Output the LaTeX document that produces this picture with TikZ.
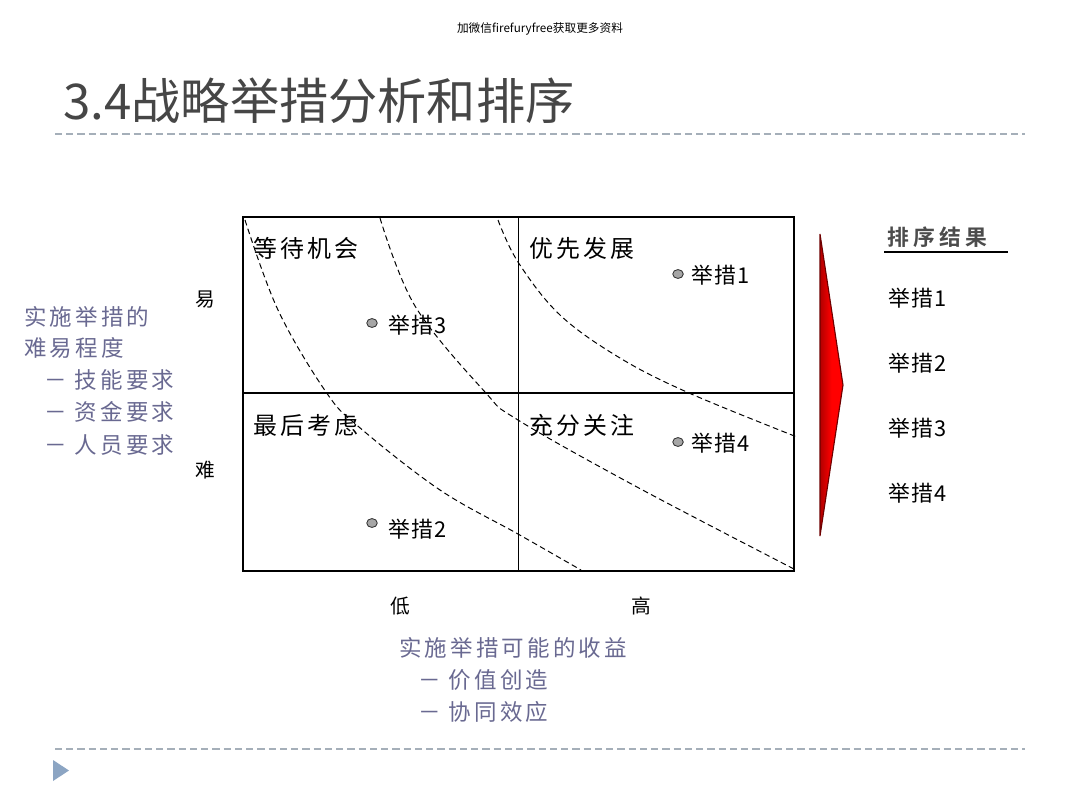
\documentclass[tikz,border=0pt]{standalone}
\usepackage{fontspec}
\setmainfont{Liberation Sans}
\newfontfamily\cjk{Noto Sans CJK SC}
\newfontfamily\cjkq{Noto Sans CJK SC}[LetterSpace=13]
\newfontfamily\cjki{Noto Sans CJK SC}[LetterSpace=7]
\newfontfamily\cjks{Noto Sans CJK SC}[LetterSpace=14]
\newfontfamily\cjkbs{Noto Sans CJK SC Bold}[LetterSpace=20]
\definecolor{titlegray}{RGB}{70,70,70}
\definecolor{sepline}{RGB}{165,175,185}
\definecolor{slate}{RGB}{105,105,145}
\definecolor{tri}{RGB}{140,165,195}
\definecolor{darkred}{RGB}{110,0,0}
\tikzset{
  quad/.style={anchor=west,inner sep=0pt,font=\cjkq\fontsize{17}{17}\selectfont},
  item/.style={anchor=west,inner sep=0pt,font=\cjki\fontsize{15.5}{15.5}\selectfont},
  dot/.style={ellipse,draw=black!80,fill=gray!70,minimum width=7.5pt,minimum height=6.3pt,inner sep=0pt,line width=0.6pt},
  side/.style={anchor=west,inner sep=0pt,text=slate,font=\cjks\fontsize{16}{16}\selectfont},
  axislab/.style={inner sep=0pt,font=\cjk\fontsize{14}{14}\selectfont},
  sep/.style={draw=sepline,dashed,line width=0.8pt,dash pattern=on 5pt off 3pt},
  curve/.style={draw=black,dashed,line width=0.7pt,dash pattern=on 4pt off 2.5pt}
}
\usetikzlibrary{shapes.geometric}
\begin{document}
\begin{tikzpicture}[x=0.025cm,y=-0.025cm]
\useasboundingbox (0,0) rectangle (1080,810);
% header
\node[inner sep=0pt,font=\cjk\fontsize{8.3}{8.3}\selectfont] (hdr) at (540,29) {加微信firefuryfree获取更多资料};
% title
\node[anchor=west,inner sep=0pt,text=titlegray,font=\cjk\fontsize{35}{35}\selectfont] (title) at (63,101) {3.4战略举措分析和排序};
\coordinate (s1a) at (55,134); \coordinate (s1b) at (1025,134);
\draw[sep] (s1a) -- (s1b);
\coordinate (s2a) at (55,749); \coordinate (s2b) at (1025,749);
\draw[sep] (s2a) -- (s2b);
\fill[tri] (53,760) -- (69,770.5) -- (53,781) -- cycle;
% matrix
\coordinate (tl) at (243,217); \coordinate (br) at (794,571);
\coordinate (mt) at (518,217); \coordinate (mb) at (518,571);
\coordinate (ml) at (243,393); \coordinate (mr) at (794,393);
\draw[line width=0.7pt] (mt) -- (mb);
\draw[line width=1.2pt] (ml) -- (mr);
\draw[line width=1.6pt] (tl) rectangle (br);
% dashed curves
\draw[curve] plot[smooth,tension=0.6] coordinates {(245,220) (278,310) (326,392) (359,427) (440,490) (518,534) (581,570)};
\draw[curve] plot[smooth,tension=0.6] coordinates {(380,218) (415,306) (485,392) (518,420) (637,487) (794,569)};
\draw[curve] plot[smooth,tension=0.6] coordinates {(498,220) (518,262) (560,315) (620,358) (689,393) (797,437)};
% quadrant labels
\node[quad] (q1) at (253,248) {等待机会};
\node[quad] (q2) at (529,248) {优先发展};
\node[quad] (q3) at (253,425) {最后考虑};
\node[quad] (q4) at (529,425) {充分关注};
% points
\node[dot] (d1) at (678,274) {}; \node[item] (t1) at (691,275) {举措1};
\node[dot] (d3) at (372,323) {}; \node[item] (t3) at (388,325) {举措3};
\node[dot] (d4) at (678,442) {}; \node[item] (t4) at (691,443) {举措4};
\node[dot] (d2) at (372,523) {}; \node[item] (t2) at (388,529) {举措2};
% axis labels
\node[axislab] (easy) at (205,300) {易};
\node[axislab] (hard) at (205,470) {难};
\node[axislab] (low) at (400,606) {低};
\node[axislab] (high) at (641,606) {高};
% left explanation
\node[side] (l1) at (24,317) {实施举措的};
\node[side] (l2) at (24,348) {难易程度};
\node[side] (l3) at (44,380) {－ 技能要求};
\node[side] (l4) at (44,412) {－ 资金要求};
\node[side] (l5) at (44,445) {－ 人员要求};
% bottom explanation
\node[side] (b1) at (399,648) {实施举措可能的收益};
\node[side] (b2) at (418,680) {－ 价值创造};
\node[side] (b3) at (418,712) {－ 协同效应};
% red arrow
\coordinate (at) at (820,234); \coordinate (ab) at (820,536); \coordinate (ap) at (843,385);
\draw[draw=darkred,line width=0.8pt,left color=red!70!black,right color=red,middle color=red] (at) -- (ap) -- (ab) -- cycle;
% ranking
\node[anchor=west,inner sep=0pt,text=black!70,font=\cjkbs\fontsize{15.5}{15.5}\selectfont] (rh) at (887,237) {排序结果};
\coordinate (ula) at (884,252); \coordinate (ulb) at (1008,252);
\draw[line width=1.3pt] (ula) -- (ulb);
\node[item] (r1) at (888,298) {举措1};
\node[item] (r2) at (888,363) {举措2};
\node[item] (r3) at (888,428) {举措3};
\node[item] (r4) at (888,493) {举措4};
\end{tikzpicture}
\end{document}
